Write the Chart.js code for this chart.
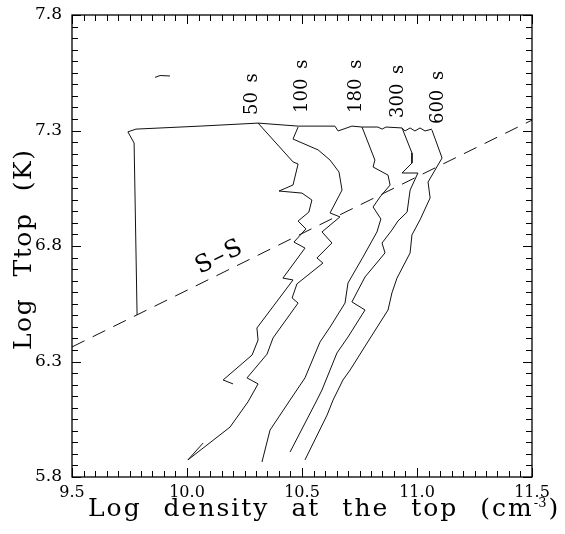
<!DOCTYPE html>
<html><head><meta charset="utf-8">
<script src="https://cdn.jsdelivr.net/npm/chart.js@4.4.0/dist/chart.umd.min.js"></script>
<style>html,body{margin:0;padding:0;background:#fff;}canvas{display:block;}</style>
</head><body>
<canvas id="c" width="565" height="534"></canvas>
<script>
// ---- data (log density [cm^-3], log T [K]) ----
const xTicks = [9.5, 10.0, 10.5, 11.0, 11.5];
const yTicks = [5.8, 6.3, 6.8, 7.3, 7.8];

const rise_n = [9.783, 9.770, 9.743, 9.778, 10.057, 10.309];
const rise_T = [6.501, 7.246, 7.294, 7.306, 7.319, 7.332];

const top_n = [10.309, 10.483, 10.643, 10.657, 10.717, 10.761, 10.830, 10.848, 10.865, 10.935, 10.948, 10.970, 10.991, 11.013, 11.035, 11.065];
const top_T = [7.332, 7.319, 7.319, 7.298, 7.319, 7.315, 7.315, 7.306, 7.315, 7.311, 7.298, 7.311, 7.298, 7.311, 7.298, 7.306];

const t50_n = [10.309, 10.461, 10.483, 10.461, 10.400, 10.500, 10.543, 10.530, 10.483, 10.517, 10.465, 10.513, 10.417, 10.461, 10.304, 10.309, 10.283, 10.157, 10.200];
const t50_T = [7.332, 7.164, 7.155, 7.064, 7.038, 7.029, 6.999, 6.947, 6.908, 6.874, 6.817, 6.791, 6.661, 6.653, 6.445, 6.393, 6.328, 6.220, 6.203];

const t100_n = [10.483, 10.461, 10.570, 10.622, 10.661, 10.674, 10.622, 10.665, 10.587, 10.630, 10.565, 10.591, 10.478, 10.457, 10.483, 10.374, 10.348, 10.261, 10.309, 10.265, 10.187, 10.004, 10.070];
const t100_T = [7.315, 7.263, 7.216, 7.172, 7.120, 7.042, 6.943, 6.926, 6.861, 6.813, 6.748, 6.726, 6.636, 6.575, 6.553, 6.402, 6.332, 6.229, 6.203, 6.125, 6.016, 5.874, 5.947];

const t180_n = [10.761, 10.817, 10.809, 10.874, 10.883, 10.839, 10.809, 10.843, 10.826, 10.765, 10.700, 10.687, 10.622, 10.578, 10.513, 10.448, 10.361, 10.326];
const t180_T = [7.315, 7.172, 7.142, 7.107, 7.064, 7.012, 6.969, 6.917, 6.861, 6.752, 6.640, 6.553, 6.449, 6.384, 6.229, 6.133, 6.003, 5.865];

const t300_n = [10.935, 10.978, 10.978, 10.935, 11.004, 10.970, 10.957, 10.917, 10.891, 10.848, 10.861, 10.774, 10.717, 10.774, 10.700, 10.652, 10.587, 10.565, 10.448];
const t300_T = [7.311, 7.203, 7.159, 7.116, 7.116, 7.042, 6.947, 6.908, 6.869, 6.813, 6.770, 6.666, 6.558, 6.523, 6.406, 6.337, 6.177, 6.133, 5.908];

const t600_n = [11.065, 11.109, 11.048, 11.057, 11.013, 10.978, 10.970, 10.913, 10.891, 10.874, 10.783, 10.709, 10.678, 10.635, 10.609, 10.513];
const t600_T = [7.302, 7.181, 7.077, 7.008, 6.913, 6.848, 6.770, 6.661, 6.597, 6.523, 6.380, 6.263, 6.220, 6.133, 6.068, 5.874];

const blip_n = [9.861, 9.883, 9.926];
const blip_T = [7.530, 7.538, 7.536];

const ss_n = [9.5, 11.5];
const ss_T = [6.363, 7.345];

const timeLabels = ['50 s', '100 s', '180 s', '300 s', '600 s'];
const ssLabel = 'S\u2013S';

// ---- chart ----
const FONT = "'DejaVu Serif', serif";
const pts = (xs, ys) => xs.map((x, i) => ({x: x, y: ys[i]}));
const ds = (label, xs, ys, extra) => Object.assign({
  label: label, data: pts(xs, ys), borderColor: '#111', borderWidth: 1,
  pointRadius: 0, showLine: true, fill: false, tension: 0
}, extra || {});

const deco = {
  id: 'deco',
  beforeDraw(chart) {
    const c = chart.ctx;
    c.save(); c.fillStyle = '#fff'; c.fillRect(0, 0, chart.width, chart.height); c.restore();
  },
  afterDraw(chart) {
    const c = chart.ctx, a = chart.chartArea, xs = chart.scales.x, ys = chart.scales.y;
    c.save();
    c.strokeStyle = '#000'; c.lineWidth = 1.3;
    c.strokeRect(a.left, a.top, a.right - a.left, a.bottom - a.top);
    c.lineWidth = 1;
    c.beginPath();
    for (let i = 0; i <= 40; i++) {
      const px = Math.round(xs.getPixelForValue(9.5 + i * 0.05)) + 0.5;
      const L = i % 10 === 0 ? 9 : 6;
      c.moveTo(px, a.bottom); c.lineTo(px, a.bottom - L);
      c.moveTo(px, a.top); c.lineTo(px, a.top + L);
      const py = Math.round(ys.getPixelForValue(5.8 + i * 0.05)) + 0.5;
      c.moveTo(a.left, py); c.lineTo(a.left + L, py);
      c.moveTo(a.right, py); c.lineTo(a.right - L, py);
    }
    c.stroke();

    c.fillStyle = '#000';
    // x title
    c.font = '25px ' + FONT;
    c.letterSpacing = '2px';
    c.wordSpacing = '12px';
    c.textAlign = 'left'; c.textBaseline = 'alphabetic';
    const main = 'Log density at the top (cm';
    let tx = 88;
    c.fillText(main, tx, 516);
    tx += c.measureText(main).width;
    c.font = '13px ' + FONT; c.letterSpacing = '0px';
    c.fillText('-3', tx, 507);
    tx += c.measureText('-3').width + 2;
    c.font = '25px ' + FONT;
    c.fillText(')', tx, 516);

    // y title
    c.save();
    c.translate(31, 350); c.rotate(-Math.PI / 2);
    c.font = '25px ' + FONT; c.letterSpacing = '1.5px'; c.wordSpacing = '12px';
    c.fillText('Log Ttop (K)', 0, 0);
    c.restore();

    // time labels
    const anchors = [[10.283, 7.367], [10.500, 7.376], [10.735, 7.376], [10.917, 7.354], [11.091, 7.328]];
    c.font = '18px ' + FONT; c.letterSpacing = '0px'; c.wordSpacing = '4px';
    c.textBaseline = 'middle'; c.textAlign = 'left';
    timeLabels.forEach((t, i) => {
      c.save();
      c.translate(xs.getPixelForValue(anchors[i][0]), ys.getPixelForValue(anchors[i][1]));
      c.rotate(-Math.PI / 2);
      c.fillText(t, 0, 0);
      c.restore();
    });

    // S-S label
    const x1 = xs.getPixelForValue(ss_n[0]), y1 = ys.getPixelForValue(ss_T[0]);
    const x2 = xs.getPixelForValue(ss_n[1]), y2 = ys.getPixelForValue(ss_T[1]);
    const ang = Math.atan2(y2 - y1, x2 - x1);
    c.save();
    c.translate(xs.getPixelForValue(10.143), ys.getPixelForValue(6.752));
    c.rotate(ang);
    c.font = '24px ' + FONT; c.letterSpacing = '2px';
    c.textAlign = 'center'; c.textBaseline = 'middle';
    c.fillText(ssLabel, 0, 0);
    c.restore();
    c.restore();
  }
};

new Chart(document.getElementById('c'), {
  type: 'scatter',
  data: {
    datasets: [
      ds('rise', rise_n, rise_T),
      ds('top', top_n, top_T),
      ds('50 s', t50_n, t50_T),
      ds('100 s', t100_n, t100_T),
      ds('180 s', t180_n, t180_T),
      ds('300 s', t300_n, t300_T),
      ds('600 s', t600_n, t600_T),
      ds('blip', blip_n, blip_T),
      ds('S-S', ss_n, ss_T, {borderDash: [14, 9]})
    ]
  },
  options: {
    responsive: false,
    animation: false,
    events: [],
    layout: {padding: {top: 15, right: 33, left: 0, bottom: 0}},
    plugins: {legend: {display: false}, tooltip: {enabled: false}},
    scales: {
      x: {
        type: 'linear', min: 9.5, max: 11.5,
        afterBuildTicks: s => { s.ticks = xTicks.map(v => ({value: v})); },
        afterFit: s => { s.height = 57; s.paddingLeft = 0; s.paddingRight = 0; s.paddingTop = 0; s.paddingBottom = 0; },
        grid: {display: false, drawTicks: false},
        border: {display: false},
        ticks: {padding: 6, color: '#000', font: {family: FONT, size: 16}, callback: v => Number(v).toFixed(1), maxRotation: 0}
      },
      y: {
        type: 'linear', min: 5.8, max: 7.8,
        afterBuildTicks: s => { s.ticks = yTicks.map(v => ({value: v})); },
        afterFit: s => { s.width = 72; s.paddingTop = 0; s.paddingBottom = 0; s.paddingLeft = 0; s.paddingRight = 0; },
        grid: {display: false, drawTicks: false},
        border: {display: false},
        ticks: {padding: 10, color: '#000', font: {family: FONT, size: 17}, callback: v => Number(v).toFixed(1)}
      }
    }
  },
  plugins: [deco]
});
</script>
</body></html>
